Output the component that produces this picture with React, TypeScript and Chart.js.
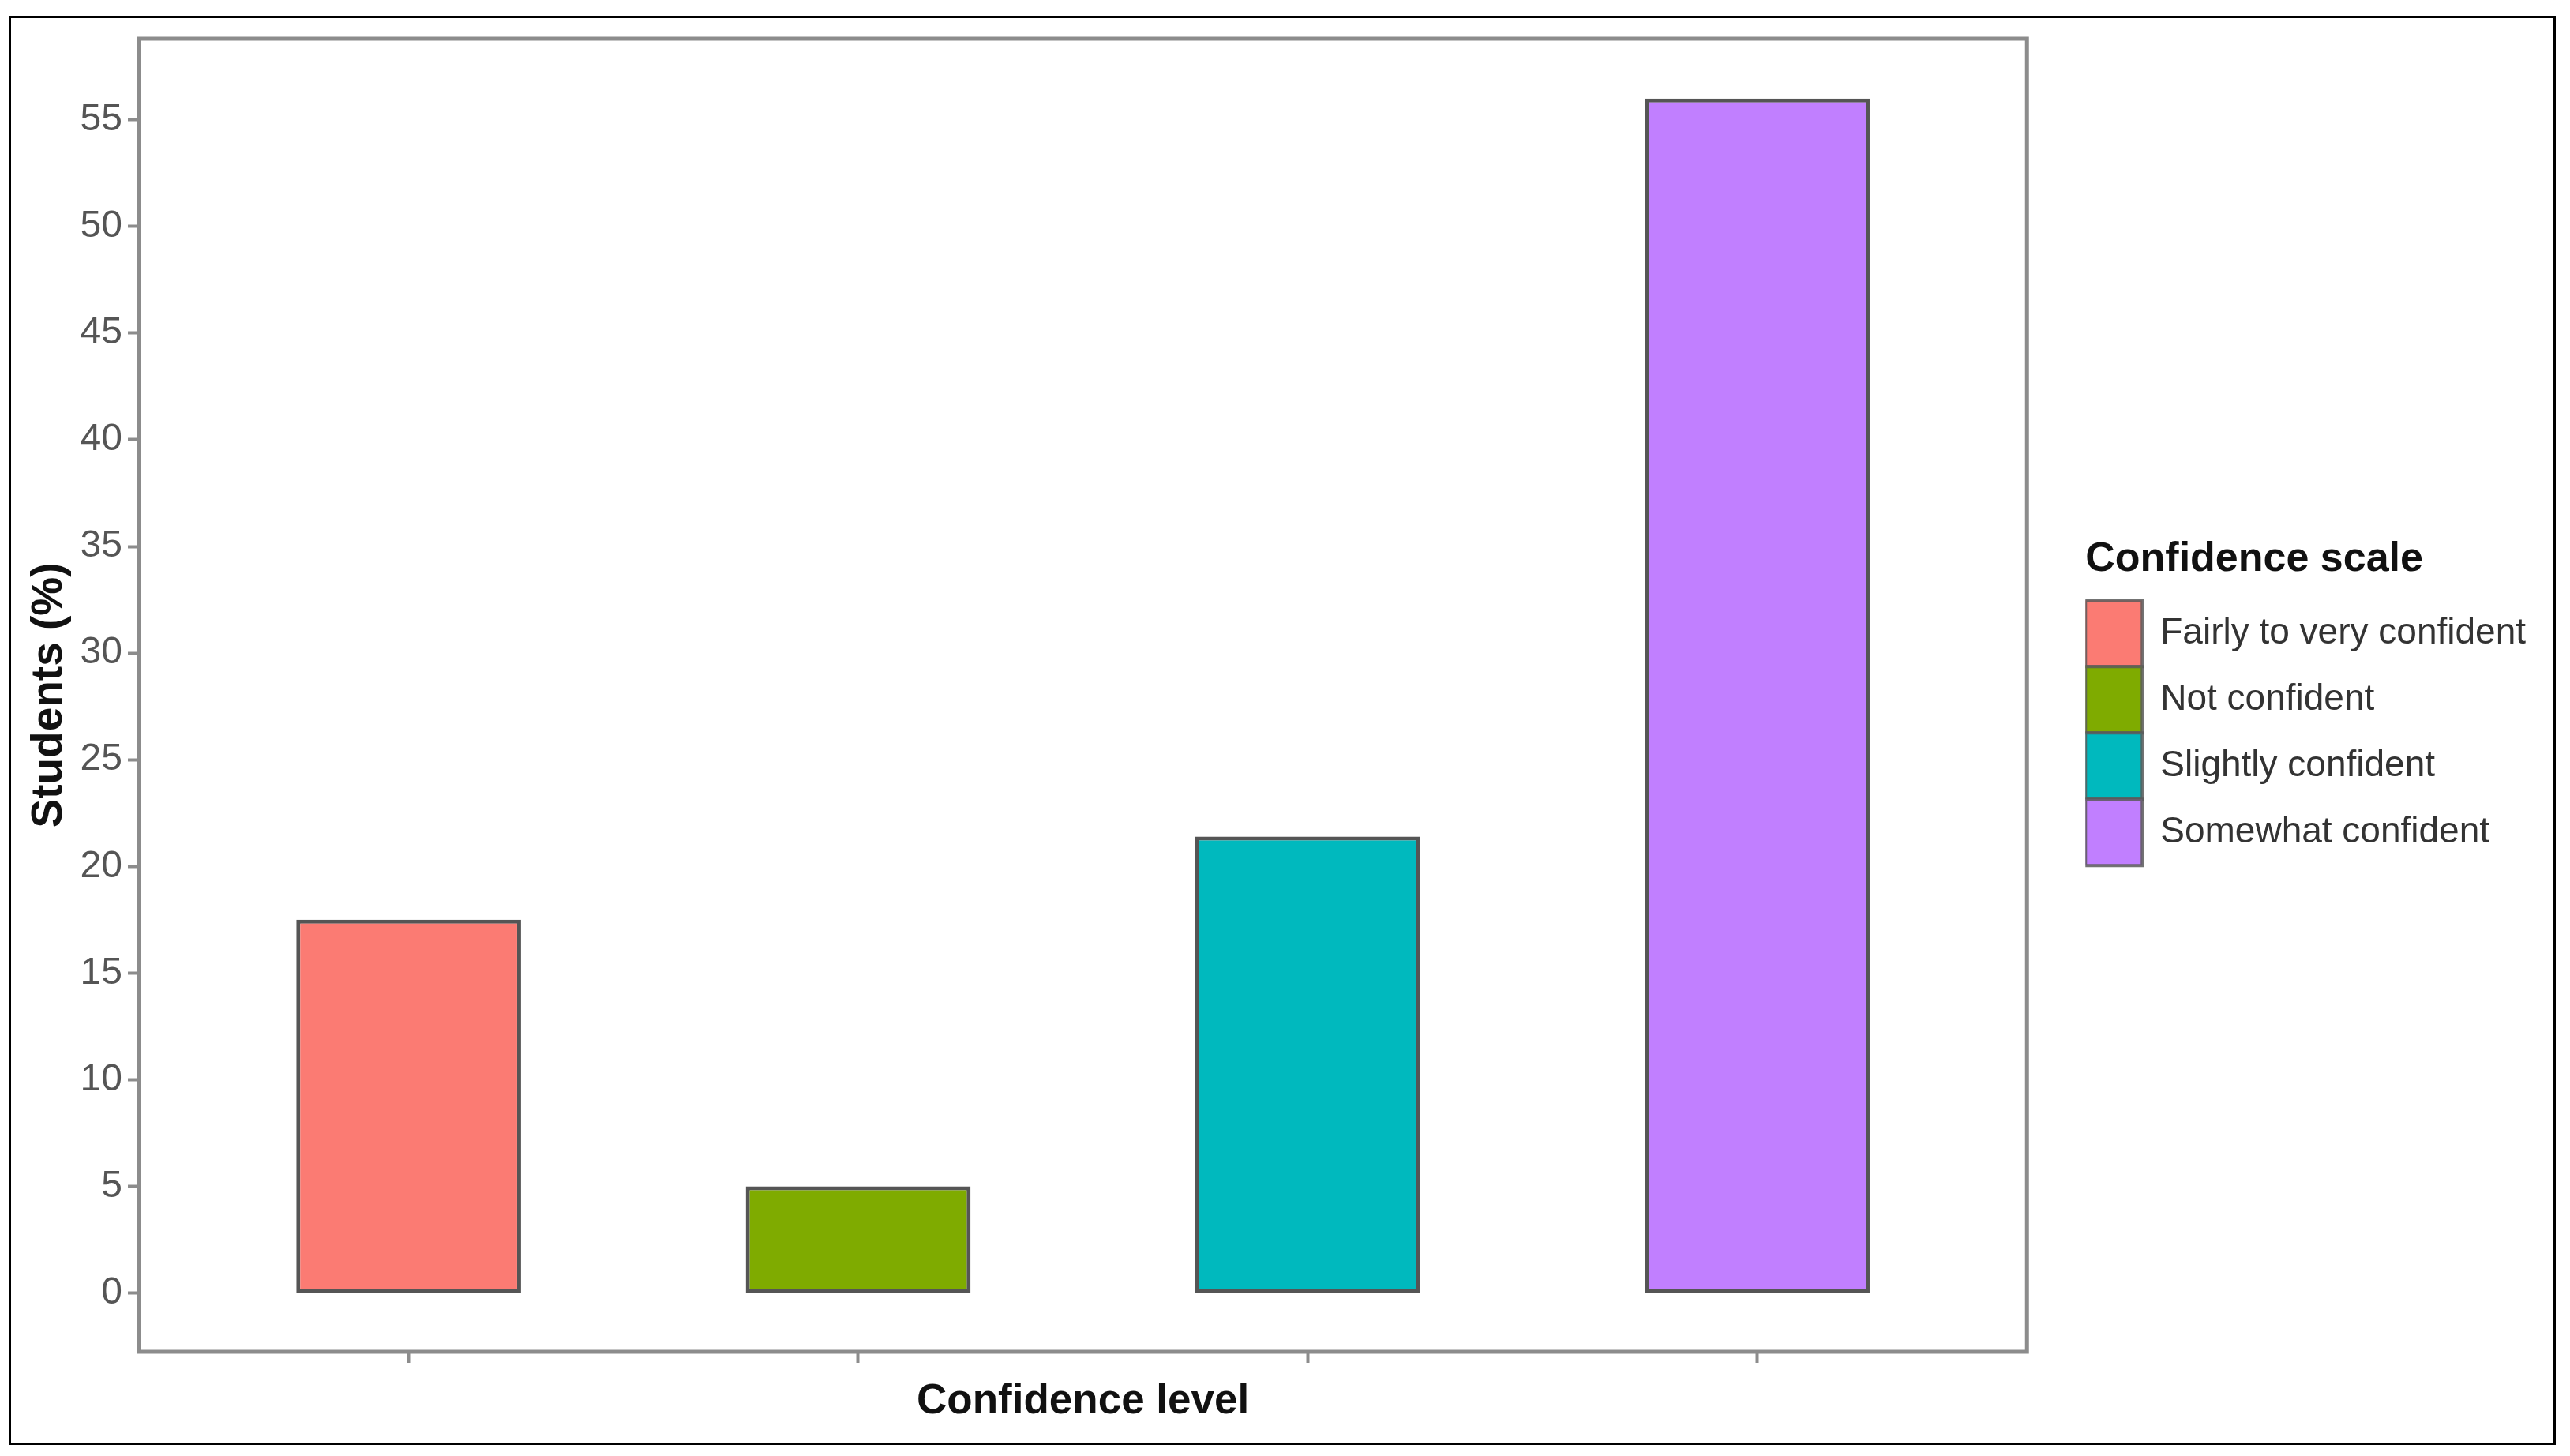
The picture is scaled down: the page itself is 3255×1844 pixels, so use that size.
import React, { useEffect, useRef } from 'react';
import { Chart, registerables } from 'chart.js';

Chart.register(...registerables);

const categories = ['Fairly to very confident', 'Not confident', 'Slightly confident', 'Somewhat confident'];
const percentages = [17.5, 5.0, 21.4, 56.0];
const yTicks = [0, 5, 10, 15, 20, 25, 30, 35, 40, 45, 50, 55];
const barColors = ['#FB7B73', '#7FAB00', '#00B9BE', '#C17FFF'];
const xTitle = 'Confidence level';
const yTitle = 'Students (%)';
const legendTitle = 'Confidence scale';

const FONT = "'Liberation Sans', Arial, sans-serif";

const W = 3255;
const H = 1844;

const panelBorder = {
  id: 'panelBorder',
  afterDraw(chart: any) {
    const { ctx, chartArea: a } = chart;
    ctx.save();
    ctx.strokeStyle = '#8c8c8c';
    ctx.lineWidth = 5;
    ctx.strokeRect(a.left, a.top, a.right - a.left, a.bottom - a.top);
    ctx.restore();
  },
};

export default function App() {
  const ref = useRef<HTMLCanvasElement | null>(null);

  useEffect(() => {
    document.body.style.margin = '0';
    const canvas = ref.current;
    if (!canvas) return;
    const barBorder = 'rgba(55,55,55,0.85)';
    const chart = new Chart(canvas, {
      type: 'bar',
      data: {
        datasets: [
          {
            label: legendTitle,
            data: categories.map((c, i) => ({ x: i + 1, y: percentages[i] })),
            backgroundColor: barColors,
            borderColor: barBorder,
            borderWidth: 5,
            borderSkipped: false,
            barPercentage: 0.5,
            categoryPercentage: 1,
          },
        ],
      },
      options: {
        responsive: false,
        animation: false,
        devicePixelRatio: 1,
        layout: { padding: { top: 49, left: 0, right: 46, bottom: 0 } },
        plugins: {
          tooltip: { enabled: false },
          legend: {
            display: true,
            position: 'right',
            align: 'center',
            fullSize: false,
            maxWidth: 900,
            title: {
              display: true,
              text: legendTitle,
              position: 'start',
              color: '#111',
              font: { family: FONT, size: 52, weight: 'bold' },
              padding: { top: 18, bottom: 15 },
            },
            labels: {
              boxWidth: 72,
              boxHeight: 84,
              padding: 0,
              color: '#333',
              font: { family: FONT, size: 46 },
              generateLabels: () =>
                categories.map((c, i) => ({
                  text: c,
                  fillStyle: barColors[i],
                  strokeStyle: 'rgba(90,90,90,0.85)',
                  lineWidth: 4,
                  hidden: false,
                  index: i,
                  datasetIndex: 0,
                  fontColor: '#333',
                })),
            },
          },
        },
        scales: {
          x: {
            type: 'linear',
            position: 'bottom',
            min: 0.4,
            max: 4.6,
            offset: false,
            afterBuildTicks: (s: any) => {
              s.ticks = categories.map((c, i) => ({ value: i + 1 }));
            },
            afterFit: (s: any) => {
              s.height = 132;
            },
            ticks: { display: false },
            grid: {
              display: true,
              offset: false,
              drawOnChartArea: false,
              drawTicks: true,
              tickLength: 14,
              tickWidth: 4,
              tickColor: '#8c8c8c',
            },
            border: { display: false },
            title: {
              display: true,
              text: xTitle,
              color: '#111',
              font: { family: FONT, size: 53, weight: 'bold' },
              padding: { top: 0, bottom: 37 },
            },
          },
          y: {
            type: 'linear',
            position: 'left',
            min: -2.75,
            max: 58.8,
            afterBuildTicks: (s: any) => {
              s.ticks = yTicks.map((v) => ({ value: v }));
            },
            afterFit: (s: any) => {
              s.width = 176;
            },
            ticks: {
              color: '#555',
              padding: 7,
              font: { family: FONT, size: 48 },
              callback: (v: any) => String(v),
            },
            grid: {
              display: true,
              drawOnChartArea: false,
              drawTicks: true,
              tickLength: 14,
              tickWidth: 4,
              tickColor: '#8c8c8c',
            },
            border: { display: false },
            title: {
              display: true,
              text: yTitle,
              color: '#111',
              font: { family: FONT, size: 55, weight: 'bold' },
              padding: { top: 30, bottom: 0 },
            },
          },
          yR: {
            type: 'linear',
            position: 'right',
            display: true,
            afterFit: (s: any) => {
              s.width = 74;
            },
            ticks: { display: false },
            grid: { display: false, drawTicks: false },
            border: { display: false },
          },
        },
      },
      plugins: [panelBorder],
    } as any);
    return () => chart.destroy();
  }, []);

  return (
    <div style={{ position: 'fixed', left: 0, top: 0, width: W, height: H, background: '#fff' }}>
      <canvas ref={ref} width={W} height={H} style={{ display: 'block', width: W, height: H }} />
      <div
        style={{
          position: 'absolute',
          left: 11,
          top: 20,
          width: 3226,
          height: 1810,
          border: '3px solid #000',
          boxSizing: 'border-box',
          pointerEvents: 'none',
        }}
      />
    </div>
  );
}
